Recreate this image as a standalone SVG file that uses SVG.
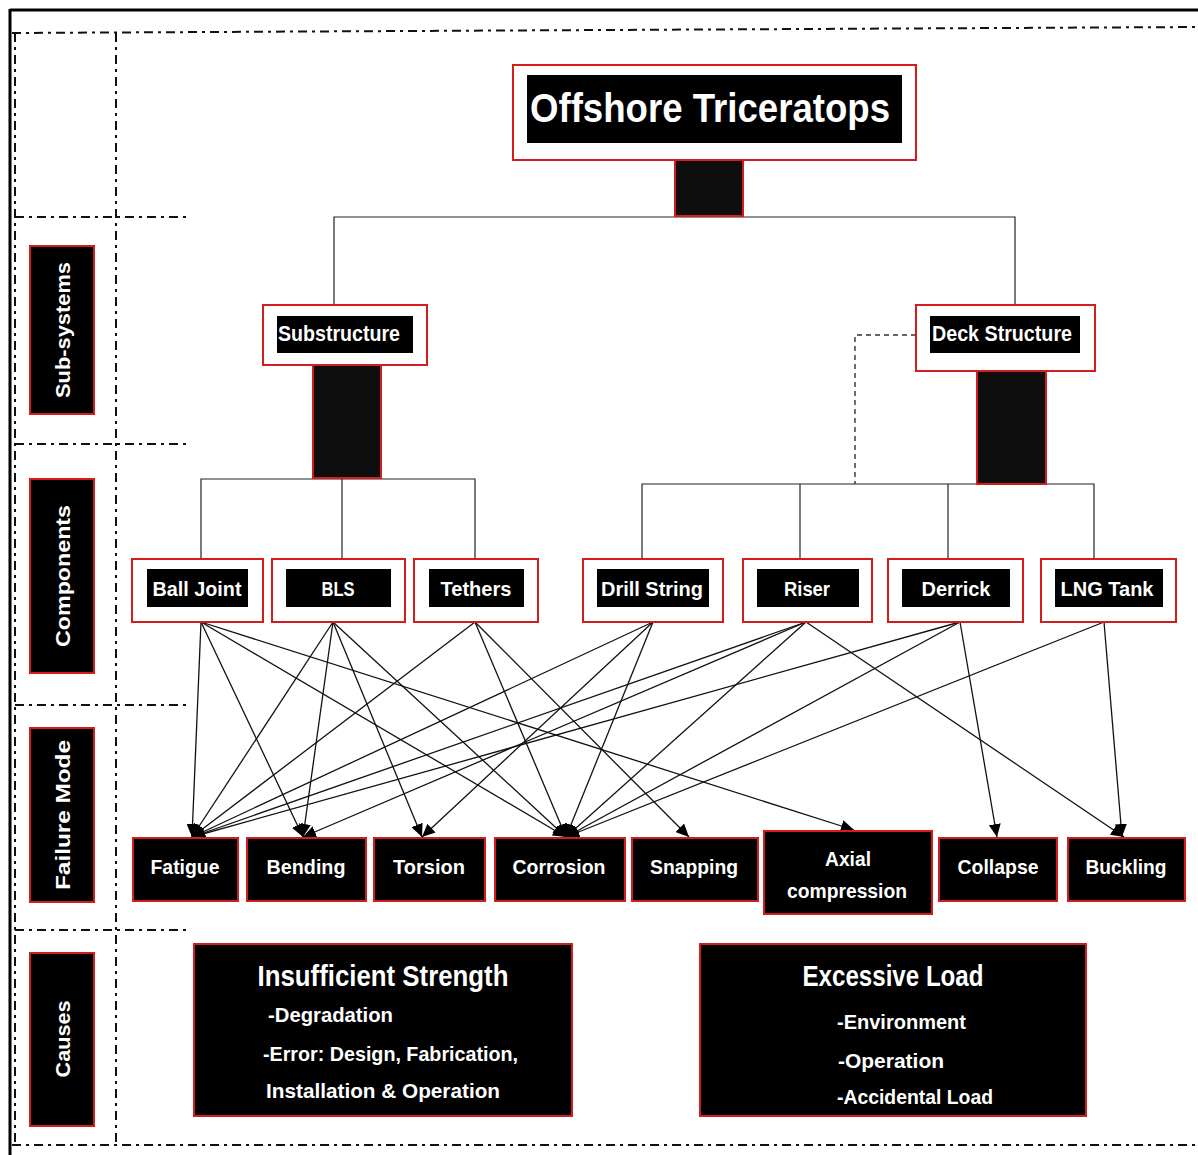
<svg xmlns="http://www.w3.org/2000/svg" width="1198" height="1155" viewBox="0 0 1198 1155">
<style>
.frame{fill:none;stroke:#000;stroke-width:3}
.dd{fill:none;stroke:#111;stroke-width:2;stroke-dasharray:9 5 3 5}
.rb{fill:#fff;stroke:#d41c1c;stroke-width:2}
.bk{fill:#000}
.bkr{fill:#000;stroke:#d41c1c;stroke-width:2}
.pil{fill:#0e0e0e;stroke:#d41c1c;stroke-width:2}
.t{font-family:"Liberation Sans",Arial,sans-serif;font-weight:bold;fill:#fff;text-anchor:middle}
.tl{font-family:"Liberation Sans",Arial,sans-serif;font-weight:bold;fill:#fff}
.tree{fill:none;stroke:#222;stroke-width:1.2}
.arr{fill:none;stroke:#111;stroke-width:1.3;marker-end:url(#ah)}
</style>
<defs>
<marker id="ah" markerUnits="userSpaceOnUse" markerWidth="14" markerHeight="12" refX="13" refY="6" orient="auto">
<path d="M0,0 L13,6 L0,12 Z" fill="#000"/>
</marker>
</defs>
<g id="frame">
<line class="frame" x1="10" y1="10" x2="1198" y2="10"/>
<line class="frame" x1="10" y1="9" x2="10" y2="1155"/>
<line class="dd" x1="12" y1="33" x2="1198" y2="27"/>
<line class="dd" x1="12" y1="1145" x2="1198" y2="1145"/>
<line class="dd" x1="15" y1="33" x2="15" y2="1145"/>
<line class="dd" x1="116" y1="33" x2="116" y2="1145"/>
<line class="dd" x1="15" y1="217" x2="190" y2="217"/>
<line class="dd" x1="15" y1="444" x2="186" y2="444"/>
<line class="dd" x1="15" y1="705" x2="186" y2="705"/>
<line class="dd" x1="15" y1="930" x2="186" y2="930"/>
</g>
<g id="lbl-subsystems"><rect class="bkr" x="30" y="246" width="64" height="168"/><text class="t" font-size="21" transform="translate(70,330) rotate(-90)" textLength="136" lengthAdjust="spacingAndGlyphs">Sub-systems</text></g>
<g id="lbl-components"><rect class="bkr" x="30" y="479" width="64" height="194"/><text class="t" font-size="21" transform="translate(70,576) rotate(-90)" textLength="142" lengthAdjust="spacingAndGlyphs">Components</text></g>
<g id="lbl-failure"><rect class="bkr" x="30" y="728" width="64" height="174"/><text class="t" font-size="21" transform="translate(70,815) rotate(-90)" textLength="150" lengthAdjust="spacingAndGlyphs">Failure Mode</text></g>
<g id="lbl-causes"><rect class="bkr" x="30" y="953" width="64" height="173"/><text class="t" font-size="21" transform="translate(70,1039) rotate(-90)" textLength="77" lengthAdjust="spacingAndGlyphs">Causes</text></g>
<g id="connectors">
<polyline class="tree" points="334,305 334,217 1015,217 1015,305"/>
<polyline class="tree" points="201,559 201,479 475,479 475,559"/>
<line class="tree" x1="342" y1="479" x2="342" y2="559"/>
<polyline class="tree" points="642,559 642,484 1094,484 1094,559"/>
<line class="tree" x1="800" y1="484" x2="800" y2="559"/>
<line class="tree" x1="948" y1="484" x2="948" y2="559"/>
<polyline fill="none" stroke="#333" stroke-width="1.4" stroke-dasharray="5 4" points="916,335 855,335 855,484"/>
<line class="arr" x1="201" y1="622" x2="192" y2="837"/>
<line class="arr" x1="201" y1="622" x2="303" y2="837"/>
<line class="arr" x1="201" y1="622" x2="566" y2="837"/>
<line class="arr" x1="201" y1="622" x2="854" y2="830"/>
<line class="arr" x1="333" y1="622" x2="192" y2="837"/>
<line class="arr" x1="333" y1="622" x2="303" y2="837"/>
<line class="arr" x1="333" y1="622" x2="422" y2="837"/>
<line class="arr" x1="333" y1="622" x2="566" y2="837"/>
<line class="arr" x1="475" y1="622" x2="192" y2="837"/>
<line class="arr" x1="475" y1="622" x2="566" y2="837"/>
<line class="arr" x1="475" y1="622" x2="689" y2="837"/>
<line class="arr" x1="653" y1="622" x2="192" y2="837"/>
<line class="arr" x1="653" y1="622" x2="422" y2="837"/>
<line class="arr" x1="653" y1="622" x2="566" y2="837"/>
<line class="arr" x1="806" y1="622" x2="192" y2="837"/>
<line class="arr" x1="806" y1="622" x2="303" y2="837"/>
<line class="arr" x1="806" y1="622" x2="566" y2="837"/>
<line class="arr" x1="806" y1="622" x2="1124" y2="837"/>
<line class="arr" x1="960" y1="622" x2="192" y2="837"/>
<line class="arr" x1="960" y1="622" x2="566" y2="837"/>
<line class="arr" x1="960" y1="622" x2="997" y2="837"/>
<line class="arr" x1="1104" y1="622" x2="566" y2="837"/>
<line class="arr" x1="1104" y1="622" x2="1122" y2="837"/>
</g>
<g id="n-title"><rect class="rb" x="513" y="65" width="403" height="95"/><rect class="bk" x="527" y="75" width="375" height="68"/><text class="t" x="710" y="122" font-size="40" textLength="360" lengthAdjust="spacingAndGlyphs">Offshore Triceratops</text><rect class="pil" x="675" y="160" width="68" height="56"/></g>
<g id="n-substructure"><rect class="rb" x="263" y="305" width="164" height="60"/><rect class="bk" x="277" y="316" width="136" height="37"/><text class="t" x="339" y="341" font-size="22" textLength="122" lengthAdjust="spacingAndGlyphs">Substructure</text><rect class="pil" x="313" y="365" width="68" height="113"/></g>
<g id="n-deck"><rect class="rb" x="916" y="305" width="179" height="66"/><rect class="bk" x="930" y="316" width="150" height="37"/><text class="t" x="1002" y="341" font-size="22" textLength="140" lengthAdjust="spacingAndGlyphs">Deck Structure</text><rect class="pil" x="977" y="371" width="69" height="113"/></g>
<g id="n-balljoint"><rect class="rb" x="132" y="559" width="131" height="63"/><rect class="bk" x="147" y="569" width="101" height="38"/><text class="t" x="197" y="596" font-size="21" textLength="89" lengthAdjust="spacingAndGlyphs">Ball Joint</text></g>
<g id="n-bls"><rect class="rb" x="272" y="559" width="133" height="63"/><rect class="bk" x="286" y="569" width="105" height="38"/><text class="t" x="338" y="596" font-size="21" textLength="33" lengthAdjust="spacingAndGlyphs">BLS</text></g>
<g id="n-tethers"><rect class="rb" x="414" y="559" width="124" height="63"/><rect class="bk" x="429" y="569" width="95" height="38"/><text class="t" x="476" y="596" font-size="21" textLength="71" lengthAdjust="spacingAndGlyphs">Tethers</text></g>
<g id="n-drillstring"><rect class="rb" x="583" y="559" width="140" height="63"/><rect class="bk" x="597" y="569" width="112" height="38"/><text class="t" x="652" y="596" font-size="21" textLength="102" lengthAdjust="spacingAndGlyphs">Drill String</text></g>
<g id="n-riser"><rect class="rb" x="743" y="559" width="129" height="63"/><rect class="bk" x="757" y="569" width="102" height="38"/><text class="t" x="807" y="596" font-size="21" textLength="46" lengthAdjust="spacingAndGlyphs">Riser</text></g>
<g id="n-derrick"><rect class="rb" x="888" y="559" width="135" height="63"/><rect class="bk" x="902" y="569" width="108" height="38"/><text class="t" x="956" y="596" font-size="21" textLength="69" lengthAdjust="spacingAndGlyphs">Derrick</text></g>
<g id="n-lngtank"><rect class="rb" x="1041" y="559" width="135" height="63"/><rect class="bk" x="1055" y="569" width="108" height="38"/><text class="t" x="1107" y="596" font-size="21" textLength="93" lengthAdjust="spacingAndGlyphs">LNG Tank</text></g>
<g id="n-fatigue"><rect class="bkr" x="133" y="838" width="105" height="63"/><text class="t" x="185" y="874" font-size="21" textLength="69" lengthAdjust="spacingAndGlyphs">Fatigue</text></g>
<g id="n-bending"><rect class="bkr" x="247" y="838" width="119" height="63"/><text class="t" x="306" y="874" font-size="21" textLength="79" lengthAdjust="spacingAndGlyphs">Bending</text></g>
<g id="n-torsion"><rect class="bkr" x="374" y="838" width="111" height="63"/><text class="t" x="429" y="874" font-size="21" textLength="72" lengthAdjust="spacingAndGlyphs">Torsion</text></g>
<g id="n-corrosion"><rect class="bkr" x="495" y="838" width="130" height="63"/><text class="t" x="559" y="874" font-size="21" textLength="93" lengthAdjust="spacingAndGlyphs">Corrosion</text></g>
<g id="n-snapping"><rect class="bkr" x="632" y="838" width="126" height="63"/><text class="t" x="694" y="874" font-size="21" textLength="88" lengthAdjust="spacingAndGlyphs">Snapping</text></g>
<g id="n-axial"><rect class="bkr" x="764" y="831" width="168" height="83"/><text class="t" x="848" y="866" font-size="21" textLength="46" lengthAdjust="spacingAndGlyphs">Axial</text><text class="t" x="847" y="898" font-size="21" textLength="120" lengthAdjust="spacingAndGlyphs">compression</text></g>
<g id="n-collapse"><rect class="bkr" x="939" y="838" width="118" height="63"/><text class="t" x="998" y="874" font-size="21" textLength="81" lengthAdjust="spacingAndGlyphs">Collapse</text></g>
<g id="n-buckling"><rect class="bkr" x="1068" y="838" width="117" height="63"/><text class="t" x="1126" y="874" font-size="21" textLength="81" lengthAdjust="spacingAndGlyphs">Buckling</text></g>
<g id="n-insufficient"><rect class="bkr" x="194" y="944" width="378" height="172"/><text class="t" x="383" y="986" font-size="29" textLength="251" lengthAdjust="spacingAndGlyphs">Insufficient Strength</text><text class="tl" x="268" y="1022" font-size="21" textLength="125" lengthAdjust="spacingAndGlyphs">-Degradation</text><text class="tl" x="263" y="1061" font-size="21" textLength="255" lengthAdjust="spacingAndGlyphs">-Error: Design, Fabrication,</text><text class="tl" x="266" y="1098" font-size="21" textLength="234" lengthAdjust="spacingAndGlyphs">Installation &amp; Operation</text></g>
<g id="n-excessive"><rect class="bkr" x="700" y="944" width="386" height="172"/><text class="t" x="893" y="986" font-size="29" textLength="181" lengthAdjust="spacingAndGlyphs">Excessive Load</text><text class="tl" x="837" y="1029" font-size="21" textLength="129" lengthAdjust="spacingAndGlyphs">-Environment</text><text class="tl" x="838" y="1068" font-size="21" textLength="106" lengthAdjust="spacingAndGlyphs">-Operation</text><text class="tl" x="837" y="1104" font-size="21" textLength="156" lengthAdjust="spacingAndGlyphs">-Accidental Load</text></g>
</svg>
